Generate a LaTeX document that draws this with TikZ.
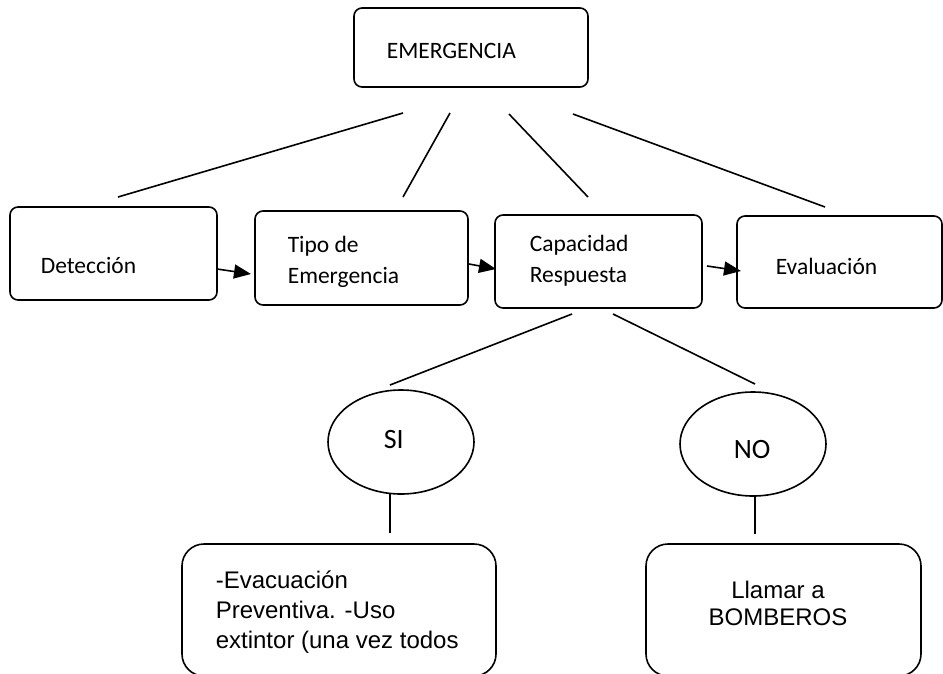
\documentclass[tikz,border=0pt]{standalone}
\usepackage{fontspec}
\setmainfont{Carlito}
\newfontfamily\arialf{Liberation Sans}
\usetikzlibrary{arrows.meta,shapes.geometric}
\begin{document}
\begin{tikzpicture}[x=1pt,y=-1pt, line width=1.6pt,
  topbox/.style={draw, rounded corners=8pt, inner sep=0pt},
  lowbox/.style={draw, rounded corners=22pt, inner sep=0pt},
  oval/.style={draw, ellipse, inner sep=0pt, minimum width=146pt, minimum height=104pt},
  cal/.style={inner sep=0pt, font=\fontsize{23.5}{28.5}\selectfont},
  calbig/.style={inner sep=0pt, font=\fontsize{28}{34}\selectfont},
  ari/.style={inner sep=0pt, font=\arialf\fontsize{24}{29}\selectfont},
  link/.style={draw},
  flow/.style={draw, -{Triangle[length=17pt,width=14pt]}}]
\useasboundingbox (0,0) rectangle (943,673);
\clip (0,0) rectangle (943,673);
% boxes
\node[topbox, minimum width=234pt, minimum height=79pt] (emg) at (471,47.5) {};
\node[topbox, minimum width=207pt, minimum height=93pt] (det) at (113.5,253.5) {};
\node[topbox, minimum width=213pt, minimum height=94pt] (tipo) at (361.5,258) {};
\node[topbox, minimum width=207pt, minimum height=93pt] (cap) at (598.5,261.5) {};
\node[topbox, minimum width=205pt, minimum height=92pt] (eva) at (839.5,262) {};
\node[oval] (si) at (401,442) {};
\node[oval] (no) at (753,444) {};
\node[lowbox, minimum width=314pt, minimum height=132pt] (sibox) at (339,610) {};
\node[lowbox, minimum width=275pt, minimum height=132pt] (nobox) at (783.5,610) {};
% texts
\node[cal, anchor=base west] (temg) at (386,58) {EMERGENCIA};
\node[cal, anchor=base west] (tdet) at (40,273) {Detección};
\node[cal, anchor=base west] (ttipo1) at (287,252) {Tipo de};
\node[cal, anchor=base west] (ttipo2) at (287,283) {Emergencia};
\node[cal, anchor=base west] (tcap1) at (529,251) {Capacidad};
\node[cal, anchor=base west] (tcap2) at (529,282) {Respuesta};
\node[cal, anchor=base west] (teva) at (775,274) {Evaluación};
\node[calbig, anchor=base west] (tsi) at (383,448) {SI};
\node[calbig, anchor=base west] (tno) at (733,458) {NO};
\node[ari, anchor=base west] (tsi1) at (215,588) {-Evacuación};
\node[ari, anchor=base west] (tsi2) at (215,618) {Preventiva. -Uso};
\node[ari, anchor=base west] (tsi3) at (215,648) {extintor (una vez todos};
\node[ari, anchor=base] (tno1) at (778,598) {Llamar a};
\node[ari, anchor=base] (tno2) at (778,625) {BOMBEROS};
% connector end points
\coordinate (e1) at (403,113); \coordinate (d1) at (118,197);
\coordinate (e2) at (450,113); \coordinate (t1) at (403,197);
\coordinate (e3) at (509,114); \coordinate (c1) at (588,197);
\coordinate (e4) at (573,114); \coordinate (v1) at (825,207);
\coordinate (c2) at (572,314); \coordinate (s1) at (390,385);
\coordinate (c3) at (613,314); \coordinate (n1) at (755,384);
\coordinate (s2) at (390,494); \coordinate (sb) at (390,533);
\coordinate (n2) at (755,496); \coordinate (nb) at (755,534);
\coordinate (a1) at (217,269); \coordinate (a2) at (251,274);
\coordinate (b1) at (469,264); \coordinate (b2) at (496,269);
\coordinate (f1) at (707,266); \coordinate (f2) at (741,271);
% connectors
\path[link] (e1) -- (d1);
\path[link] (e2) -- (t1);
\path[link] (e3) -- (c1);
\path[link] (e4) -- (v1);
\path[link] (c2) -- (s1);
\path[link] (c3) -- (n1);
\path[link] (s2) -- (sb);
\path[link] (n2) -- (nb);
\path[flow] (a1) -- (a2);
\path[flow] (b1) -- (b2);
\path[flow] (f1) -- (f2);
\end{tikzpicture}
\end{document}
